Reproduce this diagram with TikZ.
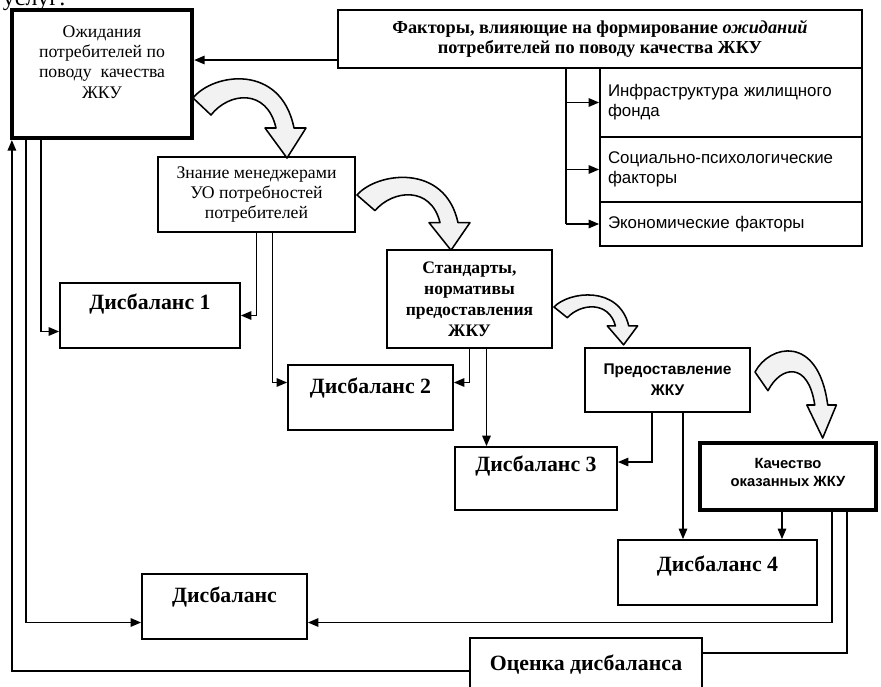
\documentclass[tikz,border=0pt]{standalone}
\usepackage{fontspec}
\setmainfont{Liberation Serif}
\newfontfamily\arialfont{Liberation Sans}
\usetikzlibrary{arrows.meta}

\newcommand{\pxu}{0.025cm}
\newcommand{\bentarrow}[3]{%
\draw [bent, shift = {#1}, xscale = #2, yscale = #3] (0,0) .. controls (20,-25) and (88,-35) .. (101,30) -- (113,30) -- (94,60) -- (72,30) -- (83,30) .. controls (74,-10) and (36,-6) .. (18,17) -- cycle;}

\begin{document}
\begin{tikzpicture}[x = \pxu, y = -\pxu,
  box/.style = {draw, line width = 1.2pt, inner sep = 0pt, align = center},
  heavy/.style = {box, line width = 3pt},
  size/.style 2 args = {minimum width = #1*\pxu, minimum height = #2*\pxu},
  lift/.style = {text depth = #1*\pxu},
  plain/.style = {font = \fontsize{12.6}{14.4}\selectfont},
  big/.style = {font = \fontsize{15.5}{18}\selectfont\bfseries},
  side/.style = {box, align = left, text width = 246*\pxu, inner xsep = 8*\pxu, font = \arialfont\fontsize{12}{14.4}\selectfont},
  link/.style = {line width = 1.2pt, -{Triangle[length = 7.5pt, width = 6pt]}},
  line/.style = {line width = 1.2pt},
  bent/.style = {draw, line width = 1.1pt, fill = black!5, line join = round}]
\clip (0,0) rectangle (881,686);

\node [anchor = base west, font = \fontsize{17}{20}\selectfont] (top) at (-2,5) {услуг:};

\node [heavy, size = {180}{128}, lift = 24, plain] (exp) at (102,74) {Ожидания\\потребителей по\\поводу\ \ качества\\ЖКУ};
\node [box, size = {524}{58}, font = \fontsize{13}{14.5}\selectfont\bfseries] (fac) at (600,39) {Факторы, влияющие на формирование \textit{ожиданий}\\потребителей по поводу качества ЖКУ};
\node [side, minimum height = 69*\pxu] (inf) at (731,102.5) {Инфраструктура жилищного\\фонда};
\node [side, minimum height = 65*\pxu] (soc) at (731,169.5) {Социально-психологические\\факторы};
\node [side, minimum height = 44*\pxu] (eco) at (731,224) {Экономические факторы};

\node [box, size = {197}{75}, plain] (kn) at (256.5,194.5) {Знание менеджерами\\УО потребностей\\потребителей};
\node [box, size = {165}{98}, font = \fontsize{12.5}{15}\selectfont\bfseries] (std) at (469.5,299) {Стандарты,\\нормативы\\предоставления\\ЖКУ};
\node [box, size = {165}{64}, font = \arialfont\fontsize{11}{15}\selectfont\bfseries] (prov) at (667.5,380) {Предоставление\\ЖКУ};
\node [heavy, size = {176}{67}, lift = 8, font = \arialfont\fontsize{10.5}{13}\selectfont\bfseries] (qual) at (788,476.5) {Качество\\оказанных ЖКУ};

\node [box, size = {180}{65}, lift = 28, big] (d1) at (150,315.5) {Дисбаланс 1};
\node [box, size = {165}{65}, lift = 24, big] (d2) at (370.5,397.5) {Дисбаланс 2};
\node [box, size = {162}{63}, lift = 30, big] (d3) at (536,478.5) {Дисбаланс 3};
\node [box, size = {199}{65}, lift = 18, big] (d4) at (717.5,572.5) {Дисбаланс 4};
\node [box, size = {165}{65}, lift = 24, big] (dis) at (224.5,606.5) {Дисбаланс};
\node [box, size = {232}{66}, lift = 16, big] (est) at (586,671) {Оценка дисбаланса};

% factors
\draw [link] ([yshift = -21*\pxu] fac.west) -- ([yshift = -21*\pxu] fac.west -| exp.east);
\draw [line] ([xshift = -33*\pxu] fac.south -| inf.west) -- ([xshift = -33*\pxu] eco.west);
\foreach \b in {inf, soc, eco}
  \draw [link] ([xshift = -33*\pxu] \b.west) -- (\b.west);

% imbalances
\draw [link] ([xshift = 31*\pxu] exp.south west) |- ([yshift = -16*\pxu] d1.west);
\draw [link] ([xshift = 16*\pxu] exp.south west) |- ([yshift = -16*\pxu] dis.west);
\draw [link] (kn.south) |- (d1.east);
\draw [link] ([xshift = 16*\pxu] kn.south) |- ([yshift = 15*\pxu] d2.west);
\draw [link] (std.south) |- ([yshift = 15*\pxu] d2.east);
\draw [link] ([xshift = 17*\pxu] std.south) -- ([xshift = 17*\pxu] std.south |- d3.north);
\draw [link] ([xshift = -15.5*\pxu] prov.south) |- ([yshift = 16.5*\pxu] d3.east);
\draw [link] ([xshift = 15.5*\pxu] prov.south) -- ([xshift = 15.5*\pxu] prov.south |- d4.north);
\draw [link] ([xshift = -6*\pxu] qual.south) -- ([xshift = -6*\pxu] qual.south |- d4.north);
\draw [link] ([xshift = 44*\pxu] qual.south) |- ([yshift = -16*\pxu] dis.east);
\draw [line] ([xshift = 59*\pxu] qual.south) |- ([yshift = 18*\pxu] est.east);
\draw [link] (est.west) -| ([xshift = 2*\pxu] exp.south west);

% process arrows
\bentarrow{(193,98)}{1}{1}
\bentarrow{(357,195)}{1}{0.92}
\bentarrow{(554,307)}{0.74}{0.63}
\bentarrow{(755,372)}{0.72}{1.1}
\end{tikzpicture}
\end{document}
